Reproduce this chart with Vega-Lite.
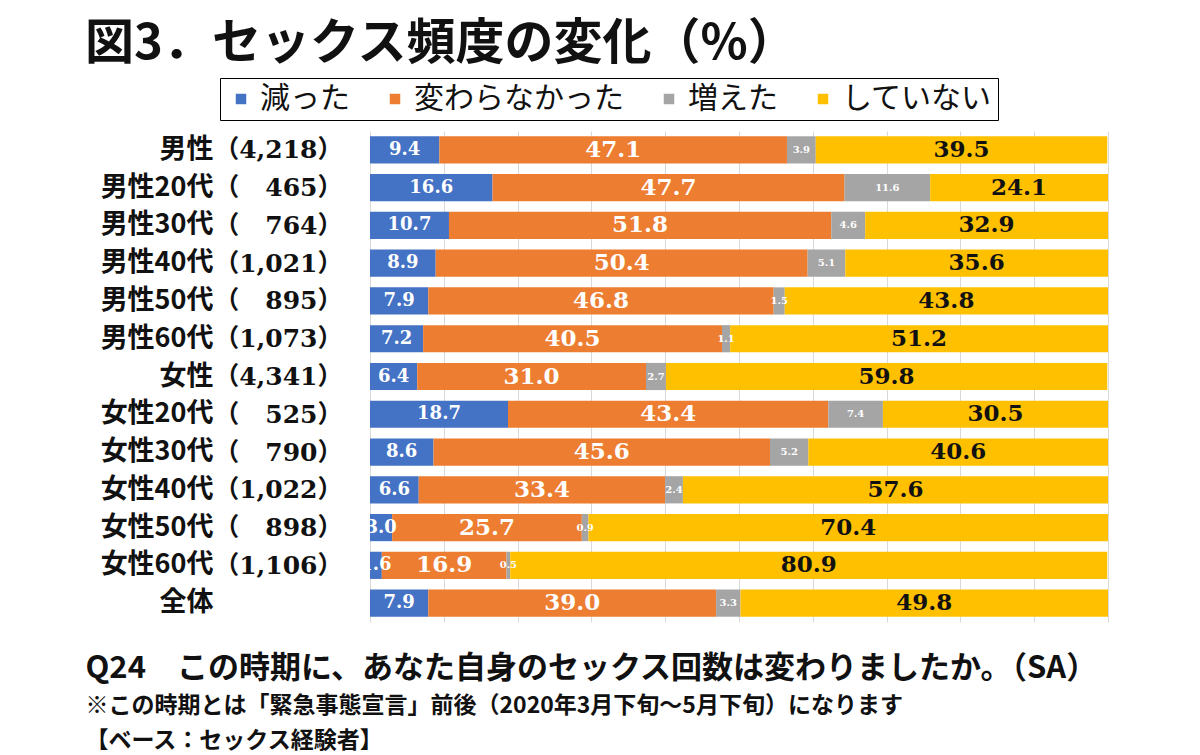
{
  "$schema": "https://vega.github.io/schema/vega-lite/v6.json",
  "width": 738,
  "height": 491,
  "autosize": {"type": "none"},
  "padding": {"left": 370, "top": 131, "right": 92, "bottom": 133},
  "background": "white",
  "title": {
    "text": "図3．セックス頻度の変化（%）",
    "anchor": "start",
    "frame": "group",
    "dx": -285,
    "offset": 9,
    "fontSize": 49,
    "font": "Noto Sans CJK JP",
    "fontWeight": "bold",
    "color": "#111111"
  },
  "data": {
    "values": [
      {"group": "男性", "n": "4,218", "answer": "減った", "k": 1, "pct": 9.4},
      {"group": "男性", "n": "4,218", "answer": "変わらなかった", "k": 2, "pct": 47.1},
      {"group": "男性", "n": "4,218", "answer": "増えた", "k": 3, "pct": 3.9},
      {"group": "男性", "n": "4,218", "answer": "していない", "k": 4, "pct": 39.5},
      {"group": "男性20代", "n": "465", "answer": "減った", "k": 1, "pct": 16.6},
      {"group": "男性20代", "n": "465", "answer": "変わらなかった", "k": 2, "pct": 47.7},
      {"group": "男性20代", "n": "465", "answer": "増えた", "k": 3, "pct": 11.6},
      {"group": "男性20代", "n": "465", "answer": "していない", "k": 4, "pct": 24.1},
      {"group": "男性30代", "n": "764", "answer": "減った", "k": 1, "pct": 10.7},
      {"group": "男性30代", "n": "764", "answer": "変わらなかった", "k": 2, "pct": 51.8},
      {"group": "男性30代", "n": "764", "answer": "増えた", "k": 3, "pct": 4.6},
      {"group": "男性30代", "n": "764", "answer": "していない", "k": 4, "pct": 32.9},
      {"group": "男性40代", "n": "1,021", "answer": "減った", "k": 1, "pct": 8.9},
      {"group": "男性40代", "n": "1,021", "answer": "変わらなかった", "k": 2, "pct": 50.4},
      {"group": "男性40代", "n": "1,021", "answer": "増えた", "k": 3, "pct": 5.1},
      {"group": "男性40代", "n": "1,021", "answer": "していない", "k": 4, "pct": 35.6},
      {"group": "男性50代", "n": "895", "answer": "減った", "k": 1, "pct": 7.9},
      {"group": "男性50代", "n": "895", "answer": "変わらなかった", "k": 2, "pct": 46.8},
      {"group": "男性50代", "n": "895", "answer": "増えた", "k": 3, "pct": 1.5},
      {"group": "男性50代", "n": "895", "answer": "していない", "k": 4, "pct": 43.8},
      {"group": "男性60代", "n": "1,073", "answer": "減った", "k": 1, "pct": 7.2},
      {"group": "男性60代", "n": "1,073", "answer": "変わらなかった", "k": 2, "pct": 40.5},
      {"group": "男性60代", "n": "1,073", "answer": "増えた", "k": 3, "pct": 1.1},
      {"group": "男性60代", "n": "1,073", "answer": "していない", "k": 4, "pct": 51.2},
      {"group": "女性", "n": "4,341", "answer": "減った", "k": 1, "pct": 6.4},
      {"group": "女性", "n": "4,341", "answer": "変わらなかった", "k": 2, "pct": 31.0},
      {"group": "女性", "n": "4,341", "answer": "増えた", "k": 3, "pct": 2.7},
      {"group": "女性", "n": "4,341", "answer": "していない", "k": 4, "pct": 59.8},
      {"group": "女性20代", "n": "525", "answer": "減った", "k": 1, "pct": 18.7},
      {"group": "女性20代", "n": "525", "answer": "変わらなかった", "k": 2, "pct": 43.4},
      {"group": "女性20代", "n": "525", "answer": "増えた", "k": 3, "pct": 7.4},
      {"group": "女性20代", "n": "525", "answer": "していない", "k": 4, "pct": 30.5},
      {"group": "女性30代", "n": "790", "answer": "減った", "k": 1, "pct": 8.6},
      {"group": "女性30代", "n": "790", "answer": "変わらなかった", "k": 2, "pct": 45.6},
      {"group": "女性30代", "n": "790", "answer": "増えた", "k": 3, "pct": 5.2},
      {"group": "女性30代", "n": "790", "answer": "していない", "k": 4, "pct": 40.6},
      {"group": "女性40代", "n": "1,022", "answer": "減った", "k": 1, "pct": 6.6},
      {"group": "女性40代", "n": "1,022", "answer": "変わらなかった", "k": 2, "pct": 33.4},
      {"group": "女性40代", "n": "1,022", "answer": "増えた", "k": 3, "pct": 2.4},
      {"group": "女性40代", "n": "1,022", "answer": "していない", "k": 4, "pct": 57.6},
      {"group": "女性50代", "n": "898", "answer": "減った", "k": 1, "pct": 3.0},
      {"group": "女性50代", "n": "898", "answer": "変わらなかった", "k": 2, "pct": 25.7},
      {"group": "女性50代", "n": "898", "answer": "増えた", "k": 3, "pct": 0.9},
      {"group": "女性50代", "n": "898", "answer": "していない", "k": 4, "pct": 70.4},
      {"group": "女性60代", "n": "1,106", "answer": "減った", "k": 1, "pct": 1.6},
      {"group": "女性60代", "n": "1,106", "answer": "変わらなかった", "k": 2, "pct": 16.9},
      {"group": "女性60代", "n": "1,106", "answer": "増えた", "k": 3, "pct": 0.5},
      {"group": "女性60代", "n": "1,106", "answer": "していない", "k": 4, "pct": 80.9},
      {"group": "全体", "n": "", "answer": "減った", "k": 1, "pct": 7.9},
      {"group": "全体", "n": "", "answer": "変わらなかった", "k": 2, "pct": 39.0},
      {"group": "全体", "n": "", "answer": "増えた", "k": 3, "pct": 3.3},
      {"group": "全体", "n": "", "answer": "していない", "k": 4, "pct": 49.8}
    ]
  },
  "layer": [
    {
      "mark": {"type": "bar"},
      "encoding": {
        "y": {
          "field": "group",
          "type": "nominal",
          "sort": null,
          "scale": {"paddingInner": 0.28, "paddingOuter": 0.14},
          "axis": {
            "title": null,
            "ticks": false,
            "domain": false,
            "labelPadding": 157,
            "labelFont": "Noto Sans CJK JP",
            "labelFontSize": 27,
            "labelFontWeight": "bold",
            "labelColor": "#111111",
            "labelAlign": "right"
          }
        },
        "x": {
          "field": "pct",
          "type": "quantitative",
          "stack": "zero",
          "scale": {"domain": [0, 100], "nice": false},
          "axis": {
            "grid": true,
            "gridColor": "#d9d9d9",
            "tickCount": 10,
            "labels": false,
            "ticks": false,
            "domain": false,
            "title": "Q24　この時期に、あなた自身のセックス回数は変わりましたか。（SA）",
            "titleFont": "Noto Sans CJK JP",
            "titleFontSize": 31,
            "titleFontWeight": "bold",
            "titleColor": "#111111",
            "titleAlign": "left",
            "titleBaseline": "middle",
            "titleX": -285,
            "titleY": 46
          }
        },
        "color": {
          "field": "answer",
          "type": "nominal",
          "scale": {
            "domain": ["減った", "変わらなかった", "増えた", "していない"],
            "range": ["#4472C4", "#ED7D31", "#A5A5A5", "#FFC000"]
          },
          "legend": {
            "orient": "none",
            "legendX": -150,
            "legendY": -53,
            "direction": "horizontal",
            "title": null,
            "symbolType": "square",
            "symbolSize": 110,
            "symbolStrokeWidth": 0,
            "labelFont": "Noto Sans CJK JP",
            "labelFontSize": 30,
            "labelColor": "#111111",
            "labelLimit": 0,
            "labelOffset": 4,
            "columnPadding": 30,
            "padding": 6,
            "strokeColor": "#000000",
            "fillColor": "white"
          }
        },
        "order": {"field": "k", "type": "quantitative"}
      }
    },
    {
      "mark": {"type": "text", "clip": true, "font": "DejaVu Serif", "fontWeight": "bold", "baseline": "middle", "align": "center"},
      "encoding": {
        "y": {
          "field": "n",
          "type": "nominal",
          "sort": null,
          "scale": {"paddingInner": 0.28, "paddingOuter": 0.14},
          "axis": {
            "orient": "left",
            "title": null,
            "ticks": false,
            "domain": false,
            "labelPadding": 28,
            "labelFont": "DejaVu Serif, Noto Sans CJK JP",
            "labelFontSize": 25,
            "labelFontWeight": "bold",
            "labelColor": "#111111",
            "labelAlign": "right",
            "labelExpr": "datum.value ? '（' + (length(datum.value) < 5 ? '\u2007\u2008' : '') + datum.value + '）' : ''"
          }
        },
        "x": {
          "field": "pct",
          "type": "quantitative",
          "stack": "zero",
          "bandPosition": 0.5,
          "axis": {
            "orient": "bottom",
            "grid": false,
            "labels": false,
            "ticks": false,
            "domain": false,
            "title": ["※この時期とは「緊急事態宣言」前後（2020年3月下旬～5月下旬）になります", "【ベース：セックス経験者】"],
            "titleFont": "Noto Sans CJK JP",
            "titleFontSize": 23,
            "titleFontWeight": "bold",
            "titleColor": "#111111",
            "titleAlign": "left",
            "titleBaseline": "top",
            "titleLineHeight": 35,
            "titleX": -285,
            "titleY": 72
          }
        },
        "detail": {"field": "answer"},
        "order": {"field": "k", "type": "quantitative"},
        "text": {"field": "pct", "type": "quantitative", "format": ".1f"},
        "color": {
          "condition": {"test": "datum.answer === 'していない'", "value": "#111111"},
          "value": "white"
        },
        "size": {
          "condition": [
            {"test": "datum.answer === '増えた'", "value": 10},
            {"test": "datum.answer === '減った'", "value": 18}
          ],
          "value": 23
        }
      }
    }
  ],
  "resolve": {"scale": {"y": "independent"}, "axis": {"x": "independent", "y": "independent"}},
  "config": {"view": {"stroke": null}}
}
